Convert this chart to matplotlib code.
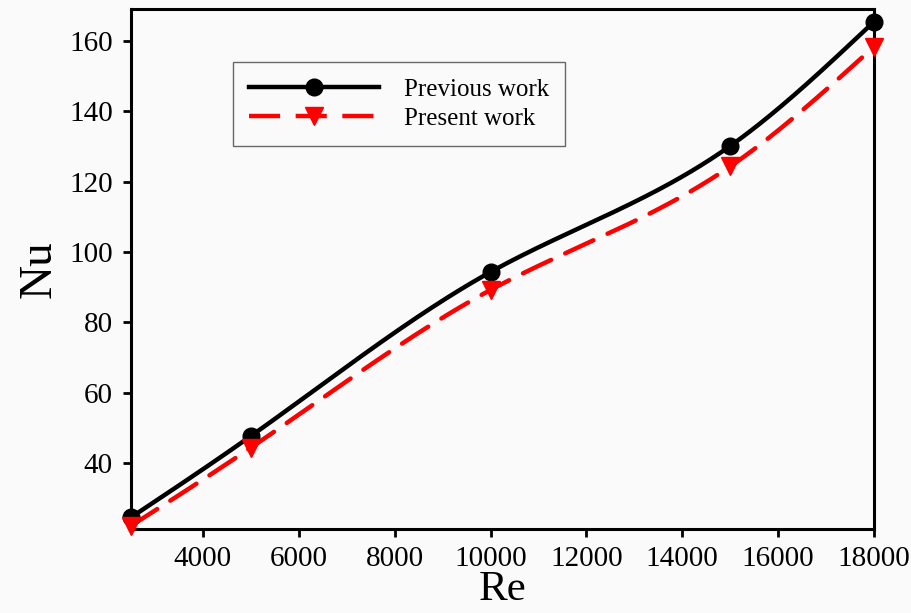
import numpy as np
import matplotlib.pyplot as plt

# Nusselt number vs Reynolds number
re_vals = [2500, 5000, 10000, 15000, 18000]
nu_previous = [24.6, 47.7, 94.3, 130.1, 165.4]
nu_present = [22.2, 44.4, 89.2, 124.3, 158.3]

xticks = [4000, 6000, 8000, 10000, 12000, 14000, 16000, 18000]
yticks = [40, 60, 80, 100, 120, 140, 160]


def spline(x, y, n=300):
    # natural cubic spline through the points, for a smooth curve
    x = np.asarray(x, float)
    y = np.asarray(y, float)
    h = np.diff(x)
    m = len(x)
    A = np.zeros((m, m))
    b = np.zeros(m)
    A[0, 0] = A[-1, -1] = 1
    for i in range(1, m - 1):
        A[i, i - 1] = h[i - 1]
        A[i, i] = 2 * (h[i - 1] + h[i])
        A[i, i + 1] = h[i]
        b[i] = 6 * ((y[i + 1] - y[i]) / h[i] - (y[i] - y[i - 1]) / h[i - 1])
    M = np.linalg.solve(A, b)
    xs = np.linspace(x[0], x[-1], n)
    k = np.clip(np.searchsorted(x, xs) - 1, 0, m - 2)
    t0 = x[k + 1] - xs
    t1 = xs - x[k]
    hk = h[k]
    ys = (M[k] * t0**3 + M[k + 1] * t1**3) / (6 * hk) \
        + (y[k] / hk - M[k] * hk / 6) * t0 \
        + (y[k + 1] / hk - M[k + 1] * hk / 6) * t1
    return xs, ys


plt.rcParams['font.family'] = 'Liberation Serif'

fig = plt.figure(figsize=(9.11, 6.13), dpi=100, facecolor='#fafafa')
ax = fig.add_axes([0.1438, 0.137, 0.8156, 0.8483])
ax.set_facecolor('#fafafa')

xs, ys = spline(re_vals, nu_previous)
ax.plot(xs, ys, color='black', lw=3.2, solid_capstyle='round')
ax.plot(re_vals, nu_previous, 'o', color='black', ms=12, clip_on=False, zorder=4)

xs, ys = spline(re_vals, nu_present)
ax.plot(xs, ys, color='#ff0000', lw=3.2, dashes=(7, 3.5), dash_capstyle='round')
ax.plot(re_vals, nu_present, 'v', color='#ff0000', ms=13, clip_on=False, zorder=5)

# legend proxies
ax.plot([], [], '-o', color='black', lw=3.2, ms=12, label='Previous work')
ax.plot([], [], 'v', color='#ff0000', lw=3.2, ms=13, ls=(0, (7, 3.5)),
        label='Present work')
handles, labels = ax.get_legend_handles_labels()
leg = ax.legend(handles, labels, loc='upper left', bbox_to_anchor=(0.137, 0.898),
                borderaxespad=0, fontsize=18, handlelength=5.2, handletextpad=1.0,
                labelspacing=0.25, borderpad=0.65, fancybox=False, frameon=True)
leg.get_frame().set_edgecolor('#444444')
leg.get_frame().set_linewidth(1.0)
leg.get_frame().set_facecolor('#fafafa')

ax.set_xlim(2500, 18000)
ax.set_ylim(21.3, 169)
ax.set_xticks(xticks)
ax.set_yticks(yticks)
ax.tick_params(direction='out', length=6, width=2, labelsize=21, pad=7)
ax.tick_params(axis='x', pad=6)
for s in ax.spines.values():
    s.set_linewidth(2.2)

ax.set_xlabel('Re', fontsize=31, labelpad=-1)
ax.set_ylabel('Nu', fontsize=34, labelpad=6)

fig.savefig('out.png', dpi=100, facecolor=fig.get_facecolor())
